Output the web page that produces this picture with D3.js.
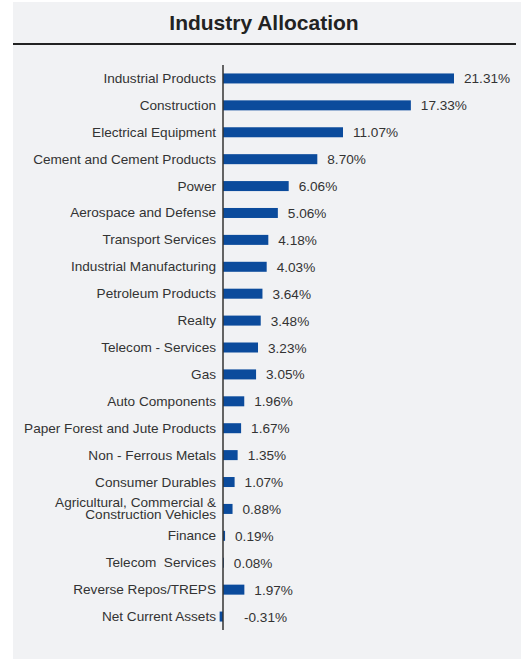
<!DOCTYPE html>
<html>
<head>
<meta charset="utf-8">
<script src="https://cdn.jsdelivr.net/npm/d3@7"></script>
<style>
  html, body { margin: 0; padding: 0; background: #ffffff; }
  svg { display: block; }
  text { font-family: "Liberation Sans", Arial, sans-serif; white-space: pre; }
</style>
</head>
<body>
<svg id="chart" width="527" height="659"></svg>
<script>
// Industry allocation (% of net assets)
const categories = [
  "Industrial Products",
  "Construction",
  "Electrical Equipment",
  "Cement and Cement Products",
  "Power",
  "Aerospace and Defense",
  "Transport Services",
  "Industrial Manufacturing",
  "Petroleum Products",
  "Realty",
  "Telecom - Services",
  "Gas",
  "Auto Components",
  "Paper Forest and Jute Products",
  "Non - Ferrous Metals",
  "Consumer Durables",
  "Agricultural, Commercial &\nConstruction Vehicles",
  "Finance",
  "Telecom  Services",
  "Reverse Repos/TREPS",
  "Net Current Assets"
];
const values = [21.31, 17.33, 11.07, 8.70, 6.06, 5.06, 4.18, 4.03, 3.64, 3.48,
                3.23, 3.05, 1.96, 1.67, 1.35, 1.07, 0.88, 0.19, 0.08, 1.97, -0.31];
const valueLabels = ["21.31%", "17.33%", "11.07%", "8.70%", "6.06%", "5.06%", "4.18%",
                     "4.03%", "3.64%", "3.48%", "3.23%", "3.05%", "1.96%", "1.67%",
                     "1.35%", "1.07%", "0.88%", "0.19%", "0.08%", "1.97%", "-0.31%"];

const data = categories.map((c, i) => ({ name: c, value: values[i], label: valueLabels[i] }));

const svg = d3.select("#chart");

// panel background
svg.append("rect")
  .attr("x", 13).attr("y", 2)
  .attr("width", 508).attr("height", 657)
  .attr("fill", "#f1f2f4");

// title
svg.append("text")
  .attr("x", 264).attr("y", 30)
  .attr("text-anchor", "middle")
  .attr("font-size", 21)
  .attr("font-weight", "bold")
  .attr("fill", "#222")
  .text("Industry Allocation");

svg.append("line")
  .attr("x1", 13).attr("x2", 516)
  .attr("y1", 44).attr("y2", 44)
  .attr("stroke", "#222").attr("stroke-width", 2);

const x0 = 223;
const x = d3.scaleLinear()
  .domain([0, 21.31])
  .range([x0, x0 + 231]);

const y = d3.scaleBand()
  .domain(categories)
  .range([65, 630])
  .paddingInner(0)
  .paddingOuter(0);

const barH = 10;

// bars
svg.append("g")
  .selectAll("rect")
  .data(data)
  .join("rect")
  .attr("x", d => x(Math.min(0, d.value)))
  .attr("width", d => Math.abs(x(d.value) - x(0)))
  .attr("y", d => y(d.name) + y.bandwidth() / 2 - barH / 2)
  .attr("height", barH)
  .attr("fill", "#0b4b9c");

// category labels (multi-line names are split on "\n")
const labels = svg.append("g")
  .selectAll("text")
  .data(data)
  .join("text")
  .attr("text-anchor", "end")
  .attr("font-size", 13.6)
  .attr("fill", "#333");

labels.each(function(d) {
  const lines = d.name.split("\n");
  const cy = y(d.name) + y.bandwidth() / 2;
  const lh = 12;
  const t = d3.select(this);
  lines.forEach((ln, i) => {
    t.append("tspan")
      .attr("x", 216)
      .attr("y", cy + 4.5 + (i - (lines.length - 1) / 2) * lh)
      .text(ln);
  });
});

// value labels
svg.append("g")
  .selectAll("text")
  .data(data)
  .join("text")
  .attr("x", d => d.value < 0 ? x(0) + 21 : x(d.value) + 10)
  .attr("y", d => y(d.name) + y.bandwidth() / 2 + 5)
  .attr("font-size", 13.6)
  .attr("fill", "#333")
  .text(d => d.label);

// zero axis line
svg.append("line")
  .attr("x1", x(0)).attr("x2", x(0))
  .attr("y1", 65).attr("y2", 630)
  .attr("stroke", "#333").attr("stroke-width", 1.5);
</script>
</body>
</html>
